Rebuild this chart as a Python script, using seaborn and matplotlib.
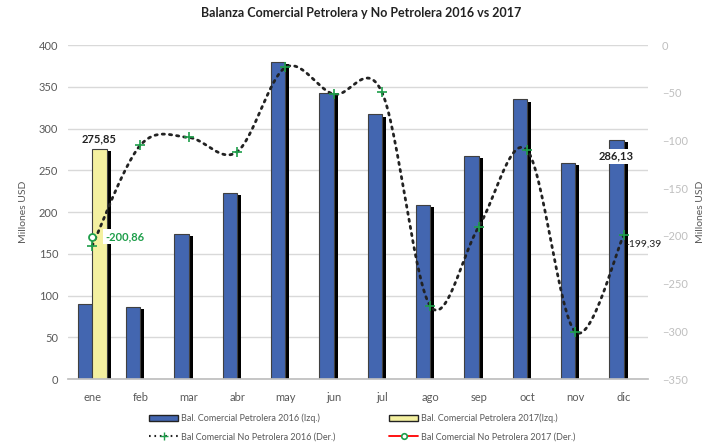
import matplotlib
matplotlib.use("Agg")
import matplotlib.pyplot as plt
import matplotlib.patheffects as pe
from matplotlib.lines import Line2D
from matplotlib.patches import Patch
import seaborn as sns
import numpy as np
import pandas as pd

sns.set_theme(style="white")
plt.rcParams['font.family'] = ['Lato', 'DejaVu Sans']

meses = ['ene', 'feb', 'mar', 'abr', 'may', 'jun', 'jul', 'ago', 'sep', 'oct', 'nov', 'dic']
petrolera_2016 = [90, 86, 173.5, 223, 379.5, 342.5, 317, 209, 267, 335, 259, 286.13]
petrolera_2017 = [275.85, None, None, None, None, None, None, None, None, None, None, None]
no_petrolera_2016 = [-210.5, -104.8, -96.8, -111.8, -23.4, -51.4, -49.6, -273.6, -190.5, -110, -300.5, -199.39]
no_petrolera_2017 = [-200.86]

AZUL = '#4366B0'
AMARILLO = '#F4F0A0'
VERDE = '#1E9E4A'
GRIS = '#595959'


def suavizar(x, y, n=30):
    # curva suavizada tipo Excel (Bezier con tangentes de Catmull-Rom)
    x = np.asarray(x, float)
    y = np.asarray(y, float)
    px = np.concatenate([[x[0]], x, [x[-1]]])
    py = np.concatenate([[y[0]], y, [y[-1]]])
    xs, ys = [], []
    t = np.linspace(0, 1, n)
    for i in range(1, len(px) - 2):
        p0 = np.array([px[i], py[i]])
        p3 = np.array([px[i + 1], py[i + 1]])
        c1 = p0 + (np.array([px[i + 1], py[i + 1]]) - np.array([px[i - 1], py[i - 1]])) / 6
        c2 = p3 - (np.array([px[i + 2], py[i + 2]]) - np.array([px[i], py[i]])) / 6
        pts = ((1 - t) ** 3)[:, None] * p0 + (3 * (1 - t) ** 2 * t)[:, None] * c1 \
            + (3 * (1 - t) * t ** 2)[:, None] * c2 + (t ** 3)[:, None] * p3
        xs.extend(pts[:, 0])
        ys.extend(pts[:, 1])
    return xs, ys


df = pd.DataFrame({
    'mes': meses * 2,
    'serie': ['2016'] * 12 + ['2017'] * 12,
    'valor': petrolera_2016 + petrolera_2017,
})

fig = plt.figure(figsize=(7.23, 4.47), dpi=100)
ax = fig.add_axes([0.094, 0.152, 0.802, 0.747])

sns.barplot(data=df, x='mes', y='valor', hue='serie', order=meses,
            palette={'2016': AZUL, '2017': AMARILLO}, width=0.6, saturation=1,
            edgecolor='#404040', linewidth=0.8, legend=False, ax=ax)
for p in ax.patches:
    p.set_path_effects([pe.SimplePatchShadow(offset=(2.8, -1.6), shadow_rgbFace='black', alpha=1.0),
                        pe.Normal()])

ax.set_ylim(0, 400)
ax.set_xlim(-0.5, 11.5)
ax.set_yticks(range(0, 401, 50))
ax.grid(axis='y', color='#d9d9d9', linewidth=1)
ax.set_axisbelow(True)
for s in ['top', 'right', 'left']:
    ax.spines[s].set_visible(False)
ax.spines['bottom'].set_color('#bfbfbf')
ax.set_xticks(np.arange(-0.5, 12, 1), minor=True)
ax.tick_params(axis='x', which='minor', length=4, color='#bfbfbf', width=0.8)
ax.tick_params(axis='x', which='major', length=0, pad=9, labelsize=8, labelcolor=GRIS)
ax.tick_params(axis='y', length=0, labelsize=8, labelcolor=GRIS, pad=7)
ax.set_xlabel('')
ax.set_ylabel('Millones USD', fontsize=7.5, color=GRIS, labelpad=8)

ax2 = ax.twinx()
ax2.set_ylim(-350, 0)
ax2.set_yticks(range(-350, 1, 50))
for s in ax2.spines.values():
    s.set_visible(False)
ax2.tick_params(axis='y', length=0, labelsize=8, labelcolor='#bfbfbf', pad=10)
ax2.set_ylabel('Millones USD', fontsize=7.5, color=GRIS, labelpad=6)

xpos = np.arange(len(meses))
sx, sy = suavizar(xpos, no_petrolera_2016)
ax2.plot(sx, sy, color='#222222', linewidth=2, linestyle=(0, (0.8, 1.8)),
         dash_capstyle='round', zorder=3)
sns.scatterplot(x=xpos, y=no_petrolera_2016, marker='+', color=VERDE, s=45,
                linewidth=1.2, ax=ax2, zorder=4, legend=False)
ax2.plot(xpos[:1], no_petrolera_2017, marker='o', markersize=5, markerfacecolor='white',
         markeredgecolor=VERDE, markeredgewidth=1.3, color='red', zorder=5)
ax2.set_xlim(-0.5, 11.5)

# etiquetas de datos
ax.text(0.15, petrolera_2017[0] + 5, '275,85', ha='center', va='bottom',
        fontsize=8, fontweight='bold', color='#222222')
ax2.text(0.27, no_petrolera_2017[0], '-200,86', ha='left', va='center',
         fontsize=8, fontweight='bold', color=VERDE,
         bbox=dict(facecolor='white', edgecolor='none', pad=1.5))
ax.text(10.85, 267, '286,13', ha='center', va='center', fontsize=8,
        fontweight='bold', color='#222222',
        bbox=dict(facecolor='white', edgecolor='none', pad=1.5))
ax2.text(11.03, no_petrolera_2016[-1] - 9, '-199,39', ha='left', va='center',
         fontsize=7.5, color='#222222')

fig.suptitle('Balanza Comercial Petrolera y No Petrolera 2016 vs 2017',
             x=0.5, y=0.985, fontsize=9, fontweight='bold', color='#222222')

handles = [
    Patch(facecolor=AZUL, edgecolor='#222222', linewidth=1),
    Line2D([0], [0], color='#222222', linestyle=(0, (0.8, 1.8)), linewidth=1.5,
           marker='+', markersize=6, markeredgecolor=VERDE, markevery=[1]),
    Patch(facecolor=AMARILLO, edgecolor='#222222', linewidth=1),
    Line2D([0], [0], color='red', linewidth=1.3, marker='o', markersize=4,
           markerfacecolor='white', markeredgecolor=VERDE, markeredgewidth=1.2),
]
labels = ['Bal. Comercial Petrolera 2016 (Izq.)', 'Bal Comercial No Petrolera 2016 (Der.)',
          'Bal. Comercial Petrolera 2017(Izq.)', 'Bal Comercial No Petrolera 2017 (Der.)']
leg = fig.legend(handles, labels, ncol=2, loc='lower left', bbox_to_anchor=(0.195, -0.005),
                 frameon=False, fontsize=6.5, handlelength=3.2, handleheight=0.6,
                 columnspacing=6, labelspacing=1.0, handletextpad=0.3)
for t in leg.get_texts():
    t.set_color(GRIS)

fig.savefig('out.png', dpi=100)
